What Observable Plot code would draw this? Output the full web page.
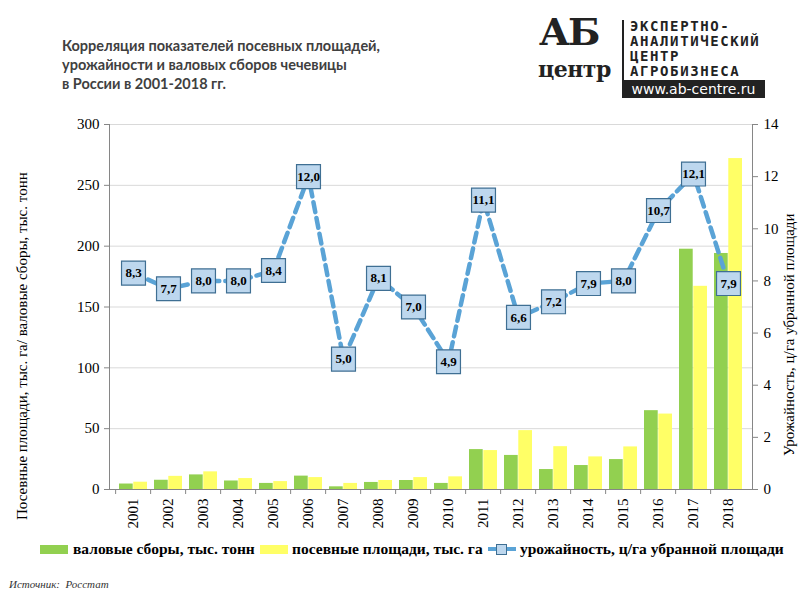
<!DOCTYPE html>
<html><head><meta charset="utf-8">
<script src="https://cdn.jsdelivr.net/npm/d3@7"></script>
<script src="https://cdn.jsdelivr.net/npm/@observablehq/plot@0.6"></script>
<style>
body{margin:0;background:#fff;}
#wrap{position:relative;width:800px;height:600px;overflow:hidden;font-family:"Liberation Serif",serif;}
#wrap svg{position:absolute;left:0;top:0;}
.abs{position:absolute;white-space:nowrap;}
#title{left:62px;top:36px;font-family:Lato,"Open Sans",sans-serif;font-weight:bold;font-size:14.5px;line-height:19px;color:#404040;}
.rot{transform-origin:0 0;transform:rotate(-90deg);font-size:15px;color:#000;}
.leg{top:540px;font-weight:bold;font-size:15.5px;}
.sw{position:absolute;height:9px;width:28px;}
</style></head>
<body><div id="wrap"></div>
<script>
const years = ["2001","2002","2003","2004","2005","2006","2007","2008","2009","2010","2011","2012","2013","2014","2015","2016","2017","2018"];
const gross = [4.5,7.6,12,7,5,11,2.2,5.8,7.4,5,32.8,28,16.4,19.7,24.6,64.8,197.5,194];
const area  = [6,10.8,14.5,9,6.5,9.8,5,7.4,9.8,10.4,32,48.4,35.2,26.8,35,62,167,272];
const yieldV = [8.3,7.7,8.0,8.0,8.4,12.0,5.0,8.1,7.0,4.9,11.1,6.6,7.2,7.9,8.0,10.7,12.1,7.9];
const leftTicks = [0,50,100,150,200,250,300];
const rightTicks = [0,2,4,6,8,10,12,14];

const data = years.map((y,i)=>({year:y, gross:gross[i], area:area[i], yld:yieldV[i]}));
const k = 300/14;
const W=800,H=600,mL=109,mR=48,mT=124,mB=111;
const step=(W-mL-mR)/years.length;
const half=step*0.8/2;
const font='"Liberation Serif", serif';

const chart = Plot.plot({
  width:W,height:H,marginLeft:mL,marginRight:mR,marginTop:mT,marginBottom:mB,
  style:{fontFamily:font,fontSize:"15px",color:"#000",background:"transparent"},
  x:{type:"band",domain:years,paddingInner:0.2,paddingOuter:0.1},
  y:{domain:[0,300]},
  marks:[
    Plot.gridY(leftTicks.slice(1),{stroke:"#d9d9d9",strokeOpacity:1}),
    Plot.barY(data,{x:"year",y:"gross",fill:"#92d050",insetRight:half}),
    Plot.barY(data,{x:"year",y:"area",fill:"#ffff66",insetLeft:half}),
    Plot.frame({anchor:"left",stroke:"#868686"}),
    Plot.frame({anchor:"right",stroke:"#868686"}),
    Plot.frame({anchor:"bottom",stroke:"#868686"}),
    Plot.axisY({ticks:leftTicks,tickSize:5,tickPadding:5,label:null,stroke:"#868686",fontSize:15}),
    Plot.axisY({anchor:"right",ticks:rightTicks.map(v=>v*k),tickFormat:d=>Math.round(d/k),tickSize:5,tickPadding:6,label:null,stroke:"#868686",fontSize:15}),
    Plot.axisX({tickSize:0,tickRotate:-90,tickPadding:9,label:null,fontSize:15}),
    Plot.axisX({tickSize:5,text:null,dx:-step/2,label:null,stroke:"#868686"}),
    Plot.line(data,{x:"year",y:d=>d.yld*k,stroke:"#5aa3d6",strokeWidth:4.5,strokeDasharray:"10,6"}),
    Plot.dot(data,{x:"year",y:d=>d.yld*k,symbol:"square",r:13.5,fill:"#bdd7ee",stroke:"#3f6f93",strokeWidth:1.2}),
    Plot.text(data,{x:"year",y:d=>d.yld*k,text:d=>d.yld.toFixed(1).replace(".",","),fontWeight:"bold",fontSize:13,fill:"#000"})
  ]
});
const wrap=document.getElementById("wrap");
wrap.appendChild(chart);

const add=(html,cls,style)=>{const e=document.createElement("div");e.className="abs "+(cls||"");e.innerHTML=html;Object.assign(e.style,style||{});wrap.appendChild(e);return e;};
add("Корреляция показателей посевных площадей,<br>урожайности и валовых сборов чечевицы<br>в России в 2001-2018 гг.","",{}).id="title";
// logo
add("АБ","",{left:"539px",top:"9px",fontFamily:"'DejaVu Serif',serif",fontWeight:"bold",fontSize:"38px",lineHeight:"normal",color:"#222",letterSpacing:"-2px"});
add("центр","",{left:"538px",top:"56px",fontFamily:"'DejaVu Serif',serif",fontWeight:"bold",fontSize:"22px",lineHeight:"normal",color:"#222",letterSpacing:"-0.5px"});
add("","",{left:"622px",top:"20px",width:"2px",height:"78px",background:"#222"});
add("ЭКСПЕРТНО-<br>АНАЛИТИЧЕСКИЙ<br>ЦЕНТР<br>АГРОБИЗНЕСА","",{left:"630px",top:"19px",fontFamily:"'DejaVu Sans Mono',monospace",fontWeight:"bold",fontSize:"14px",lineHeight:"15px",letterSpacing:"1.6px",color:"#222"});
add("www.ab-centre.ru","",{left:"622px",top:"80px",width:"143px",height:"18px",background:"#222",color:"#fff",fontFamily:"'DejaVu Sans',sans-serif",fontSize:"14px",lineHeight:"18px",textAlign:"center"});
// axis titles
add("Посевные площади, тыс. га/ валовые сборы, тыс. тонн","rot",{left:"14px",top:"520px"});
add("Урожайность, ц/га убранной площади","rot",{left:"781px",top:"456px"});
// legend
add("","sw",{left:"40px",top:"545px",background:"#92d050"});
add("валовые сборы, тыс. тонн","leg",{left:"73px"});
add("","sw",{left:"260px",top:"545px",background:"#ffff66"});
add("посевные площади, тыс. га","leg",{left:"292px"});
add("","",{left:"488px",top:"547px",width:"28px",height:"4px",background:"#5aa3d6"});
add("","",{left:"496px",top:"544px",width:"9px",height:"9px",background:"#bdd7ee",border:"1px solid #3f6f93"});
add("урожайность, ц/га убранной площади","leg",{left:"520px"});
add("Источник:&nbsp; Росстат","",{left:"9px",top:"578px",fontStyle:"italic",fontSize:"11px",color:"#333"});
</script></body></html>
